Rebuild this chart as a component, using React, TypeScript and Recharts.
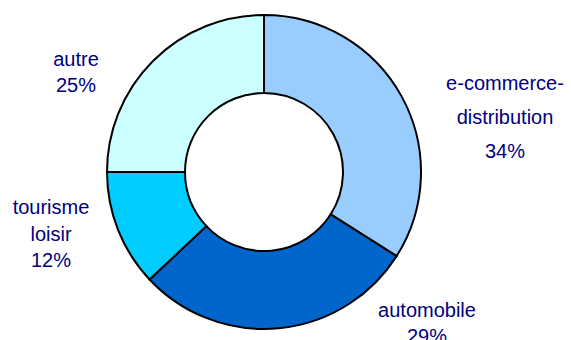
import { Cell, Pie, PieChart } from "recharts";

const SECTORS = ["e-commerce-distribution", "automobile", "tourisme loisir", "autre"];
const SHARES = [34, 29, 12, 25];
const LABEL_LINES = [
  ["e-commerce-", "distribution", "34%"],
  ["automobile", "29%"],
  ["tourisme", "loisir", "12%"],
  ["autre", "25%"],
];

const COLORS = ["#99ccff", "#0066cc", "#00ccff", "#ccffff"];
const TEXT = "#000080";

// label block anchor (first baseline) relative to pie centre, and line step
const LABEL_POS = [
  { dx: 241, dy: -82, step: 34 },
  { dx: 163, dy: 145, step: 26 },
  { dx: -213, dy: 42, step: 26.5 },
  { dx: -188, dy: -106, step: 26 },
];

const data = SECTORS.map((name, i) => ({ name, value: SHARES[i] }));

function renderLabel(props: any) {
  const { cx, cy, index } = props;
  const pos = LABEL_POS[index];
  return (
    <text
      key={index}
      x={cx + pos.dx}
      y={cy + pos.dy}
      textAnchor="middle"
      fill={TEXT}
      fontSize={20}
      fontFamily="'Liberation Sans', Arial, sans-serif"
    >
      {LABEL_LINES[index].map((line, j) => (
        <tspan key={j} x={cx + pos.dx} dy={j === 0 ? 0 : pos.step}>
          {line}
        </tspan>
      ))}
    </text>
  );
}

export default function App() {
  return (
    <div style={{ position: "absolute", left: 0, top: 0, width: 571, height: 340, background: "#fff" }}>
      <PieChart width={571} height={340} margin={{ top: 0, right: 0, bottom: 0, left: 0 }}>
        <Pie
          data={data}
          dataKey="value"
          nameKey="name"
          cx={264}
          cy={172}
          innerRadius={79}
          outerRadius={157}
          startAngle={90}
          endAngle={-270}
          stroke="#000"
          strokeWidth={2}
          label={renderLabel}
          labelLine={false}
          isAnimationActive={false}
        >
          {data.map((d, i) => (
            <Cell key={d.name} fill={COLORS[i]} />
          ))}
        </Pie>
      </PieChart>
    </div>
  );
}
